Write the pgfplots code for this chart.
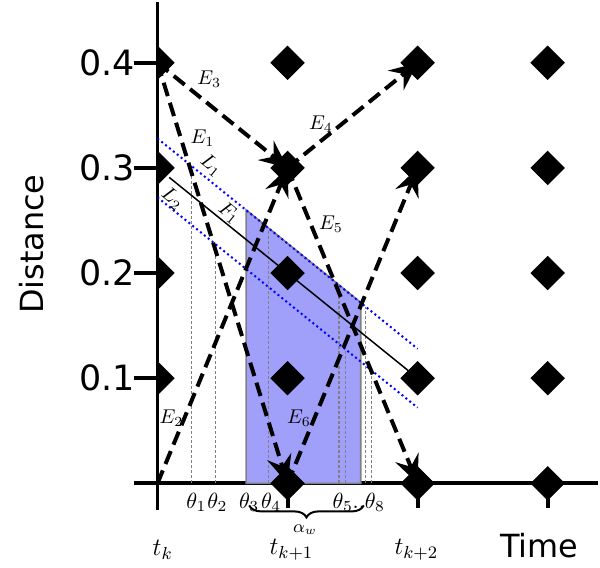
\IfFileExists{fix-cm.sty}{\RequirePackage{fix-cm}}{}
\documentclass[border=0pt]{standalone}
\usepackage{fontspec}
\newfontfamily\dejavu{DejaVu Sans}
\usepackage{pgfplots}
\pgfplotsset{compat=1.18}
\usetikzlibrary{arrows.meta,decorations.pathreplacing}

\definecolor{fillblue}{RGB}{160,160,250}
\tikzset{
  edge/.style={black, line width=2pt, dash pattern=on 7pt off 3.5pt,
    -{Stealth[length=14pt,width=12.5pt,inset=5pt]}},
  theta/.style={gray, line width=0.6pt, dash pattern=on 1.5pt off 1pt},
  band/.style={blue, line width=1pt, dash pattern=on 1pt off 1.5pt},
  lab/.style={font=\fontsize{10}{11}\selectfont, inner sep=0pt},
}

\begin{document}
\begin{tikzpicture}
\begin{axis}[
  x=65.25pt, y=527.5pt,
  xmin=0, xmax=3.387, ymin=-0.025, ymax=0.4578,
  axis x line=middle, axis y line=left,
  axis line style={-, line width=2pt},
  clip mode=individual, clip marker paths=true,
  hide obscured x ticks=false, hide obscured y ticks=false,
  tick align=outside, major tick length=12pt,
  tick style={black, line width=2pt},
  xtick={0,1,2,3}, xticklabels={,,,},
  ytick={0,0.1,0.2,0.3,0.4}, yticklabels={,0.1,0.2,0.3,0.4},
  yticklabel style={font=\dejavu\fontsize{17.5}{18}\selectfont, xshift=4pt},
]
% shaded window
\addplot[fill=fillblue, draw=gray, line width=0.8pt, mark=none] coordinates {
  (0.682,0) (0.682,0.260) (1.563,0.172) (1.563,0)
} -- cycle;

% theta crossings
\addplot[theta, mark=none] coordinates {(0.260,0) (0.260,0.302)};
\addplot[theta, mark=none] coordinates {(0.444,0) (0.444,0.228)};
\addplot[theta, mark=none] coordinates {(0.682,0) (0.682,0.204)};
\addplot[theta, mark=none] coordinates {(0.851,0) (0.851,0.243)};
\addplot[theta, mark=none] coordinates {(1.395,0) (1.395,0.189)};
\addplot[theta, mark=none] coordinates {(1.448,0) (1.448,0.127)};
\addplot[theta, mark=none] coordinates {(1.600,0) (1.600,0.168)};
\addplot[theta, mark=none] coordinates {(1.648,0) (1.648,0.107)};

% band L1 / L2 and line F1
\addplot[band, mark=none] coordinates {(0,0.328) (2.0,0.128)};
\addplot[band, mark=none] coordinates {(0,0.272) (2.0,0.072)};
\addplot[black, line width=0.75pt, mark=none] coordinates {(0.09,0.291) (1.93,0.107)};

% edges
\addplot[edge, mark=none] coordinates {(0,0.4) (1,0)};   % E1
\addplot[edge, mark=none] coordinates {(0,0) (1,0.3)};   % E2
\addplot[edge, mark=none] coordinates {(0,0.4) (1,0.3)}; % E3
\addplot[edge, mark=none] coordinates {(1,0.3) (2,0.4)}; % E4
\addplot[edge, mark=none] coordinates {(1,0.3) (2,0)};   % E5
\addplot[edge, mark=none] coordinates {(1,0) (2,0.3)};   % E6

% grid of states
\addplot[only marks, mark=square*, mark size=5.9pt,
  mark options={rotate=45, fill=black, draw=black}] coordinates {
  (0,0.1) (0,0.2) (0,0.3) (0,0.4)
  (1,0) (1,0.1) (1,0.2) (1,0.3) (1,0.4)
  (2,0) (2,0.1) (2,0.2) (2,0.3) (2,0.4)
  (3,0) (3,0.1) (3,0.2) (3,0.3) (3,0.4)
};

% x tick stems below the axis
\addplot[ycomb, black, line width=2pt, mark=none] coordinates {
  (1,-0.0235) (2,-0.0235) (3,-0.0235)
};

% labels
\node[lab] at (0.345,0.328) {$E_1$};
\node[lab] at (0.107,0.062) {$E_2$};
\node[lab] at (0.398,0.384) {$E_3$};
\node[lab] at (1.257,0.342) {$E_4$};
\node[lab] at (1.333,0.246) {$E_5$};
\node[lab] at (1.088,0.062) {$E_6$};
\node[lab, rotate=-39] at (0.414,0.302) {$L_1$};
\node[lab, rotate=-39] at (0.115,0.271) {$L_2$};
\node[lab, rotate=-39] at (0.551,0.257) {$F_1$};

\node[font=\fontsize{11}{12}\selectfont] at (0.299,-0.018) {$\theta_1$};
\node[font=\fontsize{11}{12}\selectfont] at (0.460,-0.018) {$\theta_2$};
\node[font=\fontsize{11}{12}\selectfont] at (0.705,-0.018) {$\theta_3$};
\node[font=\fontsize{11}{12}\selectfont] at (0.874,-0.018) {$\theta_4$};
\node[font=\fontsize{11}{12}\selectfont] at (1.548,-0.018) {$\theta_5..\theta_8$};
\draw[line width=1pt, decorate, decoration={brace, mirror, amplitude=6pt}]
  (0.705,-0.021) -- (1.586,-0.021);
\node[font=\fontsize{9}{10}\selectfont] at (1.134,-0.0445) {$\alpha_w$};

\node[font=\fontsize{12.5}{14}\selectfont] at (0.04,-0.0635) {$t_k$};
\node[font=\fontsize{12.5}{14}\selectfont] at (1.03,-0.0635) {$t_{k+1}$};
\node[font=\fontsize{12.5}{14}\selectfont] at (1.99,-0.0635) {$t_{k+2}$};
\node[font=\dejavu\fontsize{16}{16}\selectfont] at (2.935,-0.0588) {Time};
\node[font=\dejavu\fontsize{16}{16}\selectfont, rotate=90] at (-0.966,0.2275) {Distance};

\path (-1.211,-0.0796) rectangle (3.387,0.4578);
\end{axis}
\end{tikzpicture}
\end{document}
